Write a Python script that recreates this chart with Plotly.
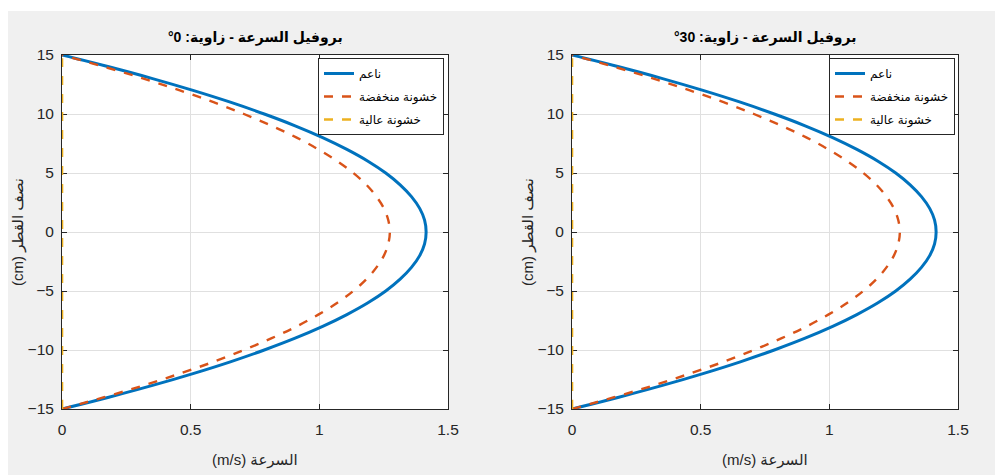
import plotly.graph_objects as go

# radius positions (cm)
radius_cm = [-15, -14, -13, -12, -11, -10, -9, -8, -7, -6, -5, -4, -3, -2, -1, 0,
             1, 2, 3, 4, 5, 6, 7, 8, 9, 10, 11, 12, 13, 14, 15]

# angle 0 deg - velocities (m/s)
smooth_0 = [0.000, 0.182, 0.352, 0.509, 0.654, 0.786, 0.906, 1.013, 1.107, 1.189, 1.258,
            1.314, 1.358, 1.390, 1.409, 1.415, 1.409, 1.390, 1.358, 1.314, 1.258, 1.189,
            1.107, 1.013, 0.906, 0.786, 0.654, 0.509, 0.352, 0.182, 0.000]
low_rough_0 = [0.000, 0.164, 0.317, 0.458, 0.589, 0.707, 0.815, 0.912, 0.996, 1.070, 1.132,
               1.183, 1.222, 1.251, 1.268, 1.274, 1.268, 1.251, 1.222, 1.183, 1.132, 1.070,
               0.996, 0.912, 0.815, 0.707, 0.589, 0.458, 0.317, 0.164, 0.000]
high_rough_0 = [0.0] * 31

# angle 30 deg
smooth_30 = [0.000, 0.182, 0.352, 0.509, 0.654, 0.786, 0.906, 1.013, 1.107, 1.189, 1.258,
             1.314, 1.358, 1.390, 1.409, 1.415, 1.409, 1.390, 1.358, 1.314, 1.258, 1.189,
             1.107, 1.013, 0.906, 0.786, 0.654, 0.509, 0.352, 0.182, 0.000]
low_rough_30 = [0.000, 0.164, 0.317, 0.458, 0.589, 0.707, 0.815, 0.912, 0.996, 1.070, 1.132,
                1.183, 1.222, 1.251, 1.268, 1.274, 1.268, 1.251, 1.222, 1.183, 1.132, 1.070,
                0.996, 0.912, 0.815, 0.707, 0.589, 0.458, 0.317, 0.164, 0.000]
high_rough_30 = [0.0] * 31

series_names = ["ناعم", "خشونة منخفضة", "خشونة عالية"]
angles = ["0", "30"]
x_ticks = [0, 0.5, 1, 1.5]
y_ticks = [-15, -10, -5, 0, 5, 10, 15]

colors = ["#0072BD", "#D95319", "#EDB120"]
dashes = ["solid", "dash", "dash"]
widths = [3, 2.4, 2.6]

W, H = 1003, 475
OX, OY = 8, 8  # page offset of the figure in the screenshot
FONT = "Liberation Sans, Arial, DejaVu Sans, sans-serif"
AX = "#262626"

fig = go.Figure()

data_sets = [[smooth_0, low_rough_0, high_rough_0], [smooth_30, low_rough_30, high_rough_30]]
for i, sets in enumerate(data_sets):
    xa = "x" if i == 0 else "x2"
    ya = "y" if i == 0 else "y2"
    lg = "legend" if i == 0 else "legend2"
    for j, vals in enumerate(sets):
        fig.add_trace(go.Scatter(
            x=vals, y=radius_cm, mode="lines", name=series_names[j],
            line=dict(color=colors[j], dash=dashes[j], width=widths[j], shape="spline"),
            xaxis=xa, yaxis=ya, legend=lg, legendgroup=f"g{i}{j}", showlegend=True))

def px(xs):
    return (xs - OX) / W

def py(ys):
    return 1 - (ys - OY) / H

# plot area geometry (screenshot pixels)
px_l = [62, 572]
px_r = [448, 958]
px_t, px_b = 55, 409

axis_common = dict(
    showline=True, linecolor=AX, linewidth=1, mirror="allticks",
    ticks="inside", ticklen=5, tickcolor=AX, tickwidth=1,
    showgrid=True, gridcolor="#e0e0e0", gridwidth=1, zeroline=False,
    tickfont=dict(family=FONT, size=15.5, color=AX),
    layer="below traces", automargin=False,
)

for i in range(2):
    sfx = "" if i == 0 else "2"
    fig.update_layout(**{
        f"xaxis{sfx}": dict(axis_common, domain=[px(px_l[i]), px(px_r[i])], range=[0, 1.5],
                            tickvals=x_ticks, ticktext=[str(t) for t in x_ticks],
                            ticklabelstandoff=6, anchor="y" + sfx),
        f"yaxis{sfx}": dict(axis_common, domain=[py(px_b), py(px_t)], range=[-15, 15],
                            tickvals=y_ticks, ticklabelstandoff=4, anchor="x" + sfx),
    })

leg_common = dict(
    bgcolor="white", bordercolor="#262626", borderwidth=1,
    font=dict(family=FONT, size=12, color="black"),
    xanchor="right", yanchor="top", tracegroupgap=4, itemwidth=30,
)
fig.update_layout(
    legend=dict(leg_common, x=px(px_r[0] - 4), y=py(px_t + 3)),
    legend2=dict(leg_common, x=px(px_r[1] - 3), y=py(px_t + 3)),
)

RLE, PDF = "\u202b", "\u202c"
annotations = []
for i in range(2):
    cx = px((px_l[i] + px_r[i]) / 2)
    annotations.append(dict(
        text="<b>" + RLE + "بروفيل السرعة - زاوية: " + angles[i] + "°" + PDF + "</b>",
        x=cx, y=py(38), xref="paper", yref="paper", showarrow=False,
        font=dict(family=FONT, size=14, color="black"), xanchor="center", yanchor="middle"))
    annotations.append(dict(
        text=RLE + "السرعة (m/s)" + PDF,
        x=cx, y=py(460), xref="paper", yref="paper", showarrow=False,
        font=dict(family=FONT, size=15, color=AX), xanchor="center", yanchor="middle"))
    annotations.append(dict(
        text="(cm) نصف القطر",
        x=px(px_l[i] - 44), y=py(232), xref="paper", yref="paper", showarrow=False,
        textangle=-90,
        font=dict(family=FONT, size=15, color=AX), xanchor="center", yanchor="middle"))

shapes = [
    dict(type="rect", xref="paper", yref="paper", x0=0, x1=1, y0=py(11), y1=1,
         fillcolor="white", line=dict(width=0), layer="below"),
]

fig.update_layout(
    width=W, height=H,
    margin=dict(l=0, r=0, t=0, b=0),
    paper_bgcolor="#f0f0f0", plot_bgcolor="white",
    annotations=annotations, shapes=shapes,
    font=dict(family=FONT),
)

fig.write_html("out.html")
